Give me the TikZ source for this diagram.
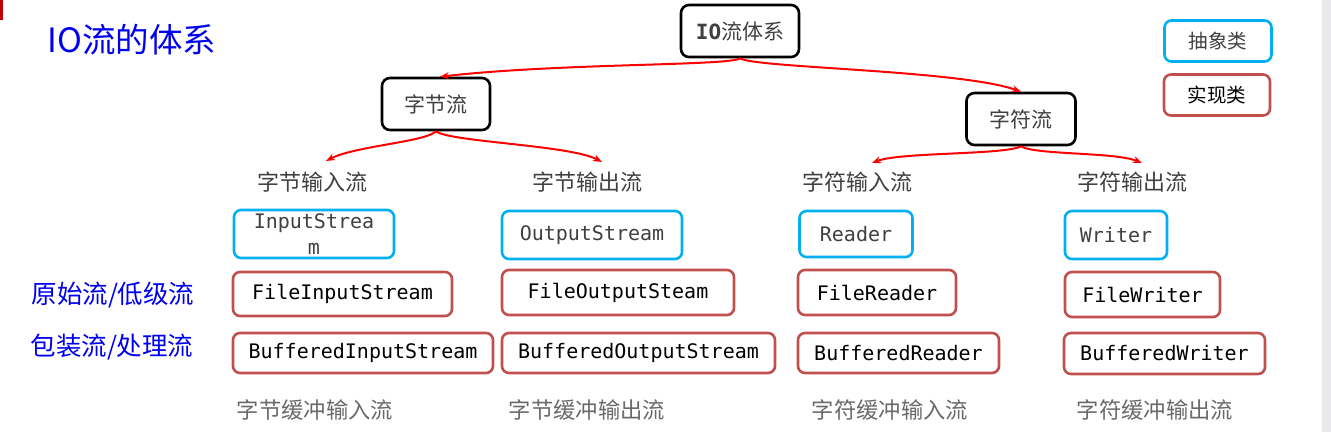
\documentclass[tikz,border=0pt]{standalone}
\usepackage{fontspec}
\setmonofont{DejaVu Sans Mono}
\newfontfamily\cjk{Noto Sans CJK SC}
\usetikzlibrary{arrows.meta}
\definecolor{absblue}{HTML}{00B0F0}
\definecolor{implred}{HTML}{C0504D}
\definecolor{txtgray}{HTML}{404040}
\definecolor{lowgray}{HTML}{6A6A6A}
\definecolor{stripgray}{HTML}{E9E9EB}
\definecolor{barred}{HTML}{C00000}
\definecolor{hand}{HTML}{0000F0}
\begin{document}
\begin{tikzpicture}[x=1pt,y=-1pt,
  catbox/.style={draw=black, line width=2.6pt, rounded corners=8pt, fill=white, inner sep=0pt,
    font=\cjk\fontsize{21}{24}\selectfont, text=txtgray},
  absbox/.style={draw=absblue, line width=2.6pt, rounded corners=7pt, inner sep=0pt,
    font=\ttfamily\fontsize{20}{26}\selectfont, text=txtgray},
  implbox/.style={draw=implred, line width=2.6pt, rounded corners=7pt, inner sep=0pt,
    font=\ttfamily\fontsize{20}{26}\selectfont, text=black},
  lbl/.style={font=\cjk\fontsize{22}{26}\selectfont, text=txtgray, inner sep=0pt},
  lowlbl/.style={font=\cjk\fontsize{22.3}{26}\selectfont, text=lowgray, inner sep=0pt},
  handlbl/.style={font=\cjk\fontsize{25.5}{28}\selectfont, text=hand, inner sep=0pt},
  flow/.style={draw=red, line width=2pt, -{Stealth[length=9pt,width=7pt]}}]
\useasboundingbox (0,0) rectangle (1331,432);
\fill[white] (0,0) rectangle (1331,432);
\fill[stripgray] (1322,0) rectangle (1331,432);
\fill[barred] (0,0) rectangle (3,20);

% title
\node[font=\cjk\fontsize{33.5}{36}\selectfont, text=hand, inner sep=0pt] (title) at (132,40) {IO流的体系};

% hierarchy
\node[catbox, minimum width=118, minimum height=52] (io) at (740,31) {{\ttfamily\bfseries IO}流体系};
\node[catbox, minimum width=108, minimum height=52] (byte) at (436,104) {字节流};
\node[catbox, minimum width=109, minimum height=52] (char) at (1021,119) {字符流};

% legend
\node[draw=absblue, line width=2.6pt, rounded corners=7pt, minimum width=107, minimum height=41,
  font=\cjk\fontsize{19.5}{22}\selectfont, text=txtgray, inner sep=0pt] (legabs) at (1218,41) {抽象类};
\node[draw=implred, line width=2.6pt, rounded corners=7pt, minimum width=106, minimum height=41,
  font=\cjk\fontsize{19.5}{22}\selectfont, text=black, inner sep=0pt] (legimpl) at (1217,95) {实现类};

% category labels
\node[lbl] (bin) at (312,182) {字节输入流};
\node[lbl] (bout) at (587,182) {字节输出流};
\node[lbl] (cin) at (857,182) {字符输入流};
\node[lbl] (cout) at (1132,182) {字符输出流};

% abstract classes
\node[absbox, minimum width=160, minimum height=48, align=center] (is) at (314,234)
  {InputStrea\\[-0pt]m};
\node[absbox, minimum width=180, minimum height=48] (os) at (592,235) {OutputStream};
\node[absbox, minimum width=113, minimum height=46] (rd) at (856,234) {Reader};
\node[absbox, minimum width=102, minimum height=48] (wr) at (1116,235) {Writer};

% file streams
\node[implbox, minimum width=219, minimum height=44] (fis) at (342.5,294) {FileInputStream};
\node[implbox, minimum width=232, minimum height=45] (fos) at (618,292.5) {FileOutputSteam};
\node[implbox, minimum width=158, minimum height=45] (frd) at (877,292.5) {FileReader};
\node[implbox, minimum width=155, minimum height=45] (fwr) at (1142.5,294.5) {FileWriter};

% buffered streams
\node[implbox, minimum width=260, minimum height=40] (bis) at (363,353) {BufferedInputStream};
\node[implbox, minimum width=273, minimum height=40] (bos) at (638.5,353) {BufferedOutputStream};
\node[implbox, minimum width=201, minimum height=40] (brd) at (898.5,353) {BufferedReader};
\node[implbox, minimum width=201, minimum height=41] (bwr) at (1164.5,353.5) {BufferedWriter};

% bottom labels
\node[lowlbl] (lbis) at (315,410) {字节缓冲输入流};
\node[lowlbl] (lbos) at (587,410) {字节缓冲输出流};
\node[lowlbl] (lbrd) at (890,410) {字符缓冲输入流};
\node[lowlbl] (lbwr) at (1155,410) {字符缓冲输出流};

% left labels
\node[handlbl] (low) at (113,295) {原始流/低级流};
\node[handlbl] (wrap) at (112,347) {包装流/处理流};

% arrow tips at the category labels
\coordinate (binT) at (326,161);
\coordinate (boutT) at (602,162);
\coordinate (cinT) at (872,163);
\coordinate (coutT) at (1142,163);

% connectors
\draw[flow] (io.south) .. controls (730,66) and (560,63) .. ([xshift=4pt]byte.north);
\draw[flow] (io.south) .. controls (755,68) and (960,70) .. (char.north);
\draw[flow] (byte.south) .. controls (425,142) and (355,146) .. (binT);
\draw[flow] (byte.south) .. controls (450,142) and (570,145) .. (boutT);
\draw[flow] (char.south) .. controls (1005,155) and (900,152) .. (cinT);
\draw[flow] (char.south) .. controls (1035,155) and (1115,152) .. (coutT);
\end{tikzpicture}
\end{document}
